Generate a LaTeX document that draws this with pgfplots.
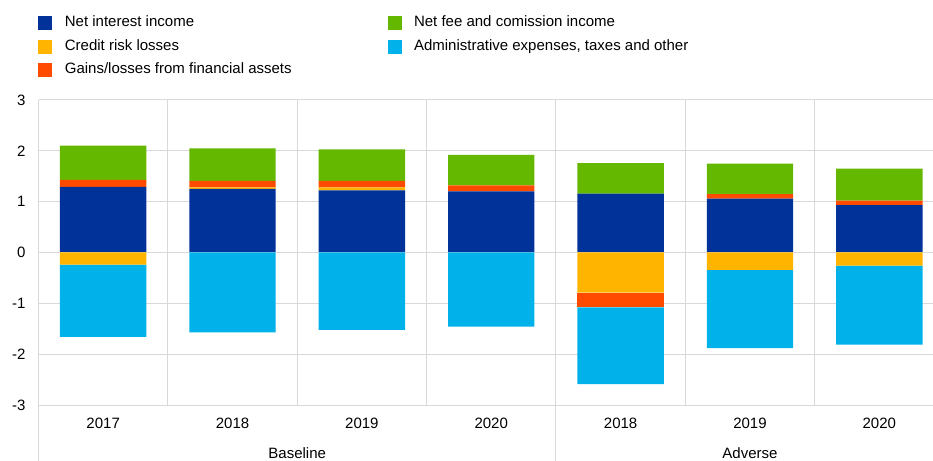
\documentclass[border=0pt]{standalone}
\usepackage{fontspec}
\setmainfont{Liberation Sans}
\usepackage{pgfplots}
\pgfplotsset{compat=1.18}
\definecolor{cNII}{HTML}{003299}
\definecolor{cCR}{HTML}{FFB400}
\definecolor{cGL}{HTML}{FF4B00}
\definecolor{cFee}{HTML}{65B800}
\definecolor{cAdm}{HTML}{00B1EA}
\definecolor{gridgray}{HTML}{D9D9D9}
\pgfplotsset{
  base/.style={
    scale only axis, width=905.5bp, height=305bp,
    xmin=-0.5, xmax=6.5, ymin=-3, ymax=3,
    ybar stacked, bar width=0.668,
    at={(0,0)}, anchor=south west, clip=false,
  },
  sq/.style={legend image code/.code={\fill[#1] (0bp,-6.5bp) rectangle (13bp,6.5bp);}},
}
\begin{document}
\begin{tikzpicture}[font=\fontsize{15bp}{18bp}\selectfont]
\begin{axis}[base,
  axis x line*=bottom, axis y line*=left,
  axis line style={draw=gridgray, line width=1bp},
  ytick={-3,-2,-1,0,1,2,3}, yticklabels={-3,-2,-1,0,1,2,3},
  xtick={0,1,2,3,4,5,6}, xticklabels={2017,2018,2019,2020,2018,2019,2020},
  minor xtick={0.5,1.5,2.5,3.5,4.5,5.5},
  major tick length=0pt, minor tick length=0pt,
  ymajorgrids, xminorgrids,
  major grid style={gridgray, line width=1bp},
  minor grid style={gridgray, line width=1bp},
  yticklabel style={anchor=east, xshift=-9.5bp},
  xticklabel style={anchor=center, yshift=-18bp},
  legend columns=2,
  legend cell align={left},
  legend style={draw=none, fill=none, inner sep=0pt, outer sep=0pt,
    at={(rel axis cs:0,1)}, anchor=north west, yshift=84bp,
    row sep=9.5bp,
    nodes={inner sep=0pt, text height=11bp, text depth=3bp},
    /tikz/every odd column/.append style={column sep=13bp},
    /tikz/every even column/.append style={column sep=96bp}},
]
\addplot[fill=cNII, draw=none, forget plot] coordinates {(0,1.29) (1,1.25) (2,1.22) (3,1.20) (4,1.16) (5,1.06) (6,0.93)};
\addplot[fill=cCR, draw=none, forget plot] coordinates {(0,0) (1,0.03) (2,0.06) (3,0) (4,0) (5,0) (6,0)};
\addplot[fill=cGL, draw=none, forget plot] coordinates {(0,0.14) (1,0.13) (2,0.13) (3,0.12) (4,0) (5,0.09) (6,0.09)};
\addplot[fill=cFee, draw=none, forget plot] coordinates {(0,0.67) (1,0.64) (2,0.62) (3,0.60) (4,0.60) (5,0.60) (6,0.63)};
\addlegendimage{sq=cNII}\addlegendentry{Net interest income}
\addlegendimage{sq=cFee}\addlegendentry{Net fee and comission income}
\addlegendimage{sq=cCR}\addlegendentry{Credit risk losses}
\addlegendimage{sq=cAdm}\addlegendentry{Administrative expenses, taxes and other}
\addlegendimage{sq=cGL}\addlegendentry{Gains/losses from financial assets}
\draw[gridgray, line width=1bp] (axis cs:-0.5,-3) -- ++(0pt,-56bp);
\draw[gridgray, line width=1bp] (axis cs:3.5,-3) -- ++(0pt,-56bp);
\node[anchor=center, yshift=-48bp] at (axis cs:1.5,-3) {Baseline};
\node[anchor=center, yshift=-48bp] at (axis cs:5.0,-3) {Adverse};
\end{axis}
\begin{axis}[base, hide axis]
\addplot[fill=cCR, draw=none] coordinates {(0,-0.24) (1,0) (2,0) (3,0) (4,-0.79) (5,-0.34) (6,-0.26)};
\addplot[fill=cGL, draw=none] coordinates {(0,0) (1,0) (2,0) (3,0) (4,-0.29) (5,0) (6,0)};
\addplot[fill=cAdm, draw=none] coordinates {(0,-1.42) (1,-1.57) (2,-1.52) (3,-1.46) (4,-1.51) (5,-1.54) (6,-1.55)};
\draw[gridgray, line width=1bp] (axis cs:-0.5,0) -- (axis cs:6.5,0);
\end{axis}
\pgfresetboundingbox
\path[use as bounding box] (-38.5bp,-56bp) rectangle (894.5bp,405bp);
\end{tikzpicture}
\end{document}
